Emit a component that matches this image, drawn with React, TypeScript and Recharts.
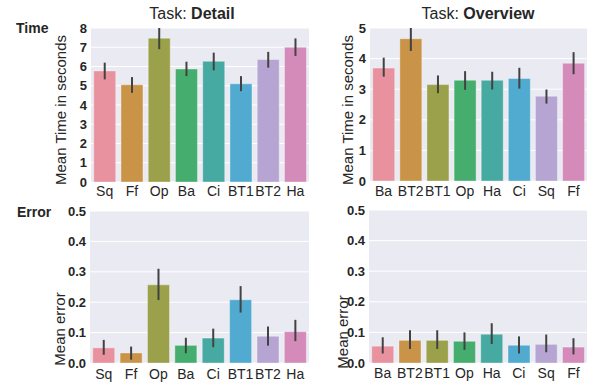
import { BarChart, Bar, XAxis, YAxis, CartesianGrid, ErrorBar, Cell } from 'recharts'

const detailCats = ['Sq', 'Ff', 'Op', 'Ba', 'Ci', 'BT1', 'BT2', 'Ha']
const overviewCats = ['Ba', 'BT2', 'BT1', 'Op', 'Ha', 'Ci', 'Sq', 'Ff']

const detailTime = [5.77, 5.05, 7.47, 5.87, 6.27, 5.1, 6.36, 7.0]
const detailTimeLo = [5.33, 4.63, 6.9, 5.5, 5.8, 4.72, 5.94, 6.55]
const detailTimeHi = [6.2, 5.45, 8.0, 6.25, 6.72, 5.5, 6.76, 7.46]

const overviewTime = [3.69, 4.65, 3.15, 3.29, 3.29, 3.35, 2.77, 3.85]
const overviewTimeLo = [3.41, 4.25, 2.87, 2.98, 2.99, 3.02, 2.53, 3.49]
const overviewTimeHi = [4.03, 5.0, 3.45, 3.59, 3.57, 3.7, 2.99, 4.21]

const detailErr = [0.05, 0.033, 0.257, 0.058, 0.082, 0.208, 0.088, 0.103]
const detailErrLo = [0.027, 0.011, 0.207, 0.032, 0.052, 0.166, 0.057, 0.072]
const detailErrHi = [0.076, 0.054, 0.31, 0.083, 0.113, 0.253, 0.12, 0.142]

const overviewErr = [0.055, 0.074, 0.074, 0.071, 0.094, 0.058, 0.061, 0.052]
const overviewErrLo = [0.031, 0.046, 0.046, 0.043, 0.062, 0.031, 0.035, 0.028]
const overviewErrHi = [0.084, 0.107, 0.107, 0.1, 0.13, 0.087, 0.093, 0.081]

const timeTicksDetail = [0, 1, 2, 3, 4, 5, 6, 7, 8]
const timeTicksOverview = [0, 1, 2, 3, 4, 5]
const errTicks = [0, 0.1, 0.2, 0.3, 0.4, 0.5]

const palette = ['#e8929f', '#c99448', '#9ba14a', '#45ae6e', '#47aaa2', '#51aacf', '#b6a5d2', '#d58bba']

const FONT = '"Liberation Sans", Arial, Helvetica, sans-serif'
const INK = '#262626'
const Y_W = 40

const build = (cats: string[], vals: number[], lo: number[], hi: number[]) =>
  cats.map((c, i) => ({ name: c, value: vals[i], err: [vals[i] - lo[i], hi[i] - vals[i]] }))

type PanelProps = {
  data: any[]
  left: number
  top: number
  width: number
  height: number
  plotLeft: number
  plotTop: number
  right: number
  xHeight: number
  xTickMargin: number
  domain: [number, number]
  ticks: number[]
  fmt?: (v: number) => string
}

function Panel({ data, left, top, width, height, plotLeft, plotTop, right, xHeight, xTickMargin, domain, ticks, fmt }: PanelProps) {
  return (
    <div style={{ position: 'absolute', left, top, width, height }}>
      <BarChart
        width={width}
        height={height}
        data={data}
        margin={{ top: plotTop, left: plotLeft - Y_W, right, bottom: 0 }}
        barCategoryGap="10%"
      >
        <CartesianGrid vertical={false} stroke="#ffffff" strokeWidth={1} fill="#eaeaf2" fillOpacity={1} />
        <XAxis
          dataKey="name"
          height={xHeight}
          interval={0}
          tickLine={false}
          axisLine={false}
          tickSize={0}
          tickMargin={xTickMargin}
          tick={{ fill: INK, fontSize: 14, fontFamily: FONT }}
        />
        <YAxis
          width={Y_W}
          domain={domain}
          ticks={ticks}
          interval={0}
          allowDataOverflow
          tickLine={false}
          axisLine={false}
          tickSize={0}
          tickMargin={4}
          tickFormatter={fmt}
          tick={{ fill: INK, fontSize: 13, fontWeight: 'bold', fontFamily: FONT }}
        />
        <Bar dataKey="value" isAnimationActive={false} stroke="rgba(255,255,255,0.35)" strokeWidth={1}>
          {data.map((d, i) => (
            <Cell key={d.name} fill={palette[i]} />
          ))}
          <ErrorBar dataKey="err" width={0} stroke="#424242" strokeWidth={2} direction="y" />
        </Bar>
      </BarChart>
    </div>
  )
}

const errFmt = (v: number) => v.toFixed(1)

export default function App() {
  const textStyle = { fontFamily: FONT, fill: INK }
  return (
    <div style={{ position: 'absolute', left: 0, top: 0, width: 595, height: 387, background: '#ffffff', overflow: 'hidden' }}>
      <Panel
        data={build(detailCats, detailTime, detailTimeLo, detailTimeHi)}
        left={0} top={0} width={310} height={200}
        plotLeft={91} plotTop={28} right={1}
        xHeight={18} xTickMargin={4}
        domain={[0, 8]} ticks={timeTicksDetail}
      />
      <Panel
        data={build(overviewCats, overviewTime, overviewTimeLo, overviewTimeHi)}
        left={300} top={0} width={295} height={200}
        plotLeft={70} plotTop={28} right={8}
        xHeight={19} xTickMargin={5}
        domain={[0, 5]} ticks={timeTicksOverview}
      />
      <Panel
        data={build(detailCats, detailErr, detailErrLo, detailErrHi)}
        left={0} top={200} width={310} height={187}
        plotLeft={90} plotTop={11} right={1}
        xHeight={24} xTickMargin={6}
        domain={[0, 0.5]} ticks={errTicks} fmt={errFmt}
      />
      <Panel
        data={build(overviewCats, overviewErr, overviewErrLo, overviewErrHi)}
        left={300} top={200} width={295} height={187}
        plotLeft={69} plotTop={10} right={8}
        xHeight={24} xTickMargin={5}
        domain={[0, 0.5]} ticks={errTicks} fmt={errFmt}
      />
      <svg width={595} height={387} style={{ position: 'absolute', left: 0, top: 0, pointerEvents: 'none' }}>
        <text x={192} y={19} textAnchor="middle" fontSize={16} style={textStyle}>
          Task: <tspan fontWeight="bold">Detail</tspan>
        </text>
        <text x={478} y={19} textAnchor="middle" fontSize={16} style={textStyle}>
          Task: <tspan fontWeight="bold">Overview</tspan>
        </text>
        <text x={16} y={33} fontSize={14} fontWeight="bold" style={textStyle}>Time</text>
        <text x={17} y={217} fontSize={14} fontWeight="bold" style={textStyle}>Error</text>
        <text transform="translate(60,110) rotate(-90)" textAnchor="middle" dominantBaseline="central" fontSize={15} style={textStyle}>
          Mean Time in seconds
        </text>
        <text transform="translate(347,110) rotate(-90)" textAnchor="middle" dominantBaseline="central" fontSize={15} style={textStyle}>
          Mean Time in seconds
        </text>
        <text transform="translate(59,329) rotate(-90)" textAnchor="middle" dominantBaseline="central" fontSize={15} style={textStyle}>
          Mean error
        </text>
        <text transform="translate(342,332) rotate(-90)" textAnchor="middle" dominantBaseline="central" fontSize={15} style={textStyle}>
          Mean error
        </text>
      </svg>
    </div>
  )
}
